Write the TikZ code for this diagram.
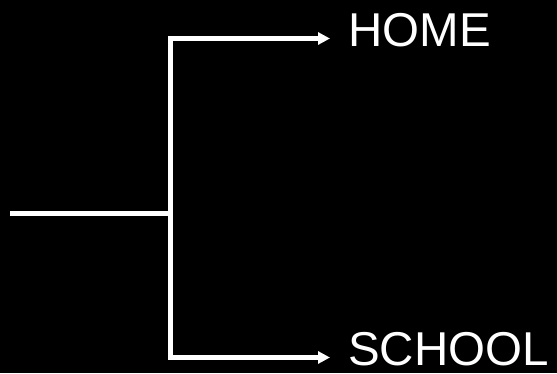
\documentclass[tikz,border=0pt]{standalone}
\usepackage{fontspec}
\setmainfont{Liberation Sans}
\usetikzlibrary{arrows.meta}

\begin{document}
\begin{tikzpicture}[x=1pt,y=1pt,
  branch/.style={draw=white,line width=5pt},
  goal/.style={text=white,font=\fontsize{47.5}{50}\selectfont,inner sep=0pt,text depth=0pt,anchor=base west}]
 \fill[black] (0,0) rectangle (557,373);
 \useasboundingbox (0,0) rectangle (557,373);
 \coordinate (src) at (10,159.5);
 \coordinate (fork) at (170,159.5);
 \node[goal] (home) at (348,326.5) {HOME};
 \node[goal] (school) at (348,7.5) {SCHOOL};
 \draw[branch] (src) -- (fork);
 \draw[branch,-{Triangle[length=12pt,width=12pt]}] (fork) |- ([xshift=-18pt,yshift=8pt]home.base west);
 \draw[branch,-{Triangle[length=12pt,width=12pt]}] (fork) |- ([xshift=-18pt,yshift=8pt]school.base west);
\end{tikzpicture}
\end{document}
